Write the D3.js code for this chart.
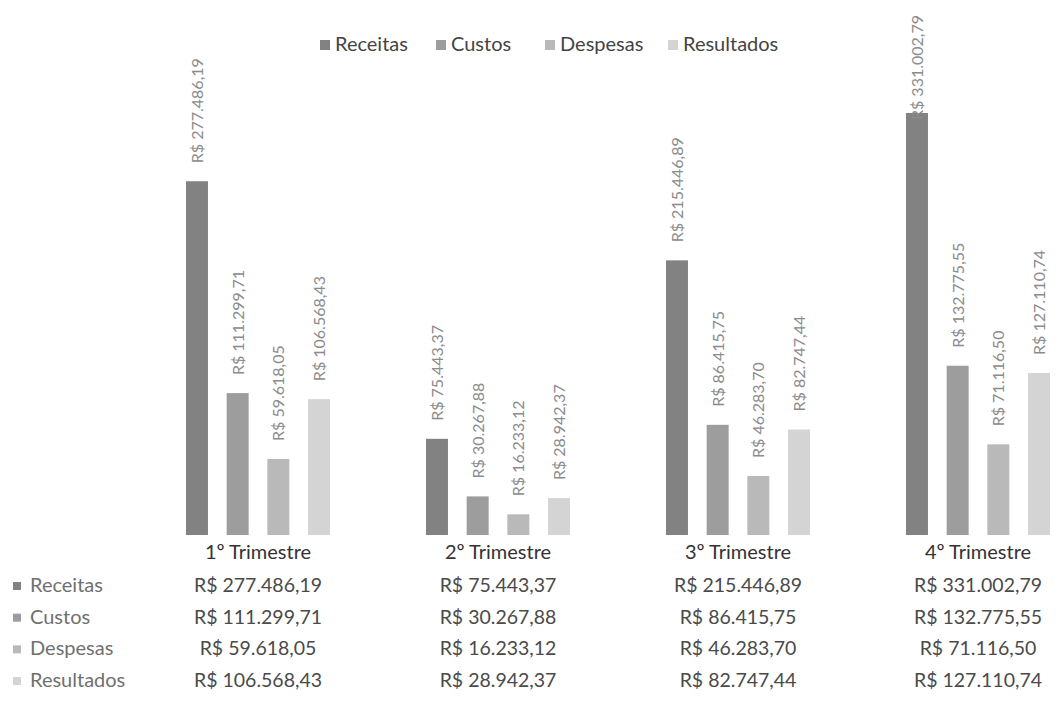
<!DOCTYPE html>
<html>
<head>
<meta charset="utf-8">
<script src="https://cdn.jsdelivr.net/npm/d3@7/dist/d3.min.js"></script>
<style>
  html, body { margin: 0; padding: 0; background: #fff; }
  svg { display: block; font-family: "Lato", "Open Sans", sans-serif; }
</style>
</head>
<body>
<svg id="chart" width="1058" height="720"></svg>
<script>
// ---- data ----
const quarters = ["1º Trimestre", "2º Trimestre", "3º Trimestre", "4º Trimestre"];
const seriesNames = ["Receitas", "Custos", "Despesas", "Resultados"];
const receitas   = [277486.19, 75443.37, 215446.89, 331002.79];
const custos     = [111299.71, 30267.88, 86415.75, 132775.55];
const despesas   = [59618.05, 16233.12, 46283.70, 71116.50];
const resultados = [106568.43, 28942.37, 82747.44, 127110.74];
const seriesValues = [receitas, custos, despesas, resultados];
const seriesColors = ["#828282", "#9d9d9d", "#b9b9b9", "#d4d4d4"];

const fmtNum = d3.formatLocale({decimal: ",", thousands: ".", grouping: [3], currency: ["R$ ", ""]}).format(",.2f");
const fmt = v => "R$ " + fmtNum(v);

const svg = d3.select("#chart");

// ---- scales ----
const x0 = d3.scaleBand().domain(quarters).range([138, 1098]).padding(0);
const x1 = d3.scaleBand().domain(seriesNames).range([48, 192]).paddingInner(0.46).paddingOuter(0);
const y = d3.scaleLinear().domain([0, 331002.79]).range([535, 113]);

// ---- bars ----
const groups = svg.selectAll("g.grp").data(quarters).join("g")
  .attr("class", "grp")
  .attr("transform", d => `translate(${x0(d)},0)`);

seriesNames.forEach((s, si) => {
  groups.append("rect")
    .attr("x", x1(s))
    .attr("width", x1.bandwidth())
    .attr("y", (d, qi) => y(seriesValues[si][qi]))
    .attr("height", (d, qi) => y(0) - y(seriesValues[si][qi]))
    .attr("fill", seriesColors[si]);
});

// ---- data labels (rotated) ----
seriesNames.forEach((s, si) => {
  groups.append("text")
    .attr("class", "dl")
    .attr("font-size", 16)
    .attr("fill", "#8c8c8c")
    .attr("text-anchor", "start")
    .text((d, qi) => fmt(seriesValues[si][qi]))
    .each(function(d, qi) {
      const len = this.getComputedTextLength();
      const top = y(seriesValues[si][qi]);
      const yStart = Math.max(top - 18, 15 + len);
      const cx = x1(s) + x1.bandwidth() / 2 + 6;
      d3.select(this).attr("transform", `translate(${cx},${yStart}) rotate(-90)`);
    });
});

// ---- category labels ----
svg.selectAll("text.cat").data(quarters).join("text")
  .attr("class", "cat")
  .attr("x", d => x0(d) + x0.bandwidth() / 2)
  .attr("y", 559)
  .attr("text-anchor", "middle")
  .attr("font-size", 20)
  .attr("fill", "#333")
  .text(d => d);

// ---- data table ----
const rowY = d3.scalePoint().domain(seriesNames).range([592, 687]);
seriesNames.forEach((s, si) => {
  svg.append("rect")
    .attr("x", 13).attr("y", rowY(s) - 10)
    .attr("width", 8).attr("height", 8)
    .attr("fill", seriesColors[si]);
  svg.append("text")
    .attr("x", 30).attr("y", rowY(s))
    .attr("font-size", 20)
    .attr("fill", "#707070")
    .text(s);
  svg.selectAll(null).data(quarters).join("text")
    .attr("x", d => x0(d) + x0.bandwidth() / 2)
    .attr("y", rowY(s))
    .attr("text-anchor", "middle")
    .attr("font-size", 19.5)
    .attr("fill", "#4a4a4a")
    .text((d, qi) => fmt(seriesValues[si][qi]));
});

// ---- legend ----
const legendX = [320, 436, 545, 668];
const lg = svg.append("g");
seriesNames.forEach((s, si) => {
  lg.append("rect")
    .attr("x", legendX[si]).attr("y", 40)
    .attr("width", 10).attr("height", 10)
    .attr("fill", seriesColors[si]);
  lg.append("text")
    .attr("x", legendX[si] + 15).attr("y", 51)
    .attr("font-size", 20)
    .attr("fill", "#444")
    .text(s);
});
</script>
</body>
</html>
